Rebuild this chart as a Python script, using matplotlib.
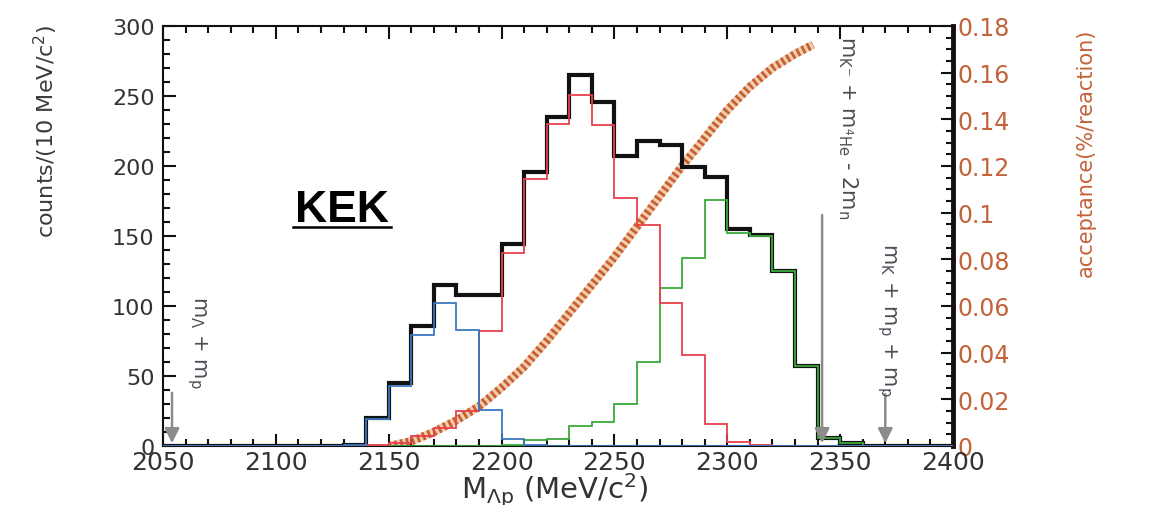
import numpy as np
import matplotlib
matplotlib.use("Agg")
import matplotlib.pyplot as plt
from matplotlib.ticker import MultipleLocator, FuncFormatter
from matplotlib.lines import Line2D

plt.rcParams['font.family'] = ['DejaVu Sans']
plt.rcParams['mathtext.fontset'] = 'dejavusans'

# ---------------- data ----------------
bin_edges = list(range(2050, 2401, 10))   # 10 MeV bins, 2050 .. 2400
# counts per bin (lower edges 2050, 2060, ..., 2390)
blue_counts = [0, 0, 0, 0, 0, 0, 0, 0, 1, 19, 43, 79, 102, 83, 26, 5, 1,
               0, 0, 0, 0, 0, 0, 0, 0, 0, 0, 0, 0, 0, 0, 0, 0, 0, 0]
red_counts = [0, 0, 0, 0, 0, 0, 0, 0, 0, 1, 2, 7, 13, 25, 82, 138, 191,
              230, 251, 229, 177, 158, 102, 65, 16, 3, 1, 0, 0, 0, 0, 0, 0, 0, 0]
green_counts = [0, 0, 0, 0, 0, 0, 0, 0, 0, 0, 0, 0, 0, 0, 0, 1, 4,
                5, 14, 17, 30, 60, 113, 134, 176, 152, 150, 125, 57, 6, 2, 0, 0, 0, 0]
total_counts = [b + r + g for b, r, g in zip(blue_counts, red_counts, green_counts)]

acc_mass = [2150, 2160, 2170, 2180, 2190, 2200, 2210, 2220, 2230, 2240, 2250,
            2260, 2270, 2280, 2290, 2300, 2310, 2320, 2330, 2338]
acc_value = [0.000, 0.002, 0.006, 0.011, 0.017, 0.025, 0.034, 0.045, 0.057,
             0.069, 0.081, 0.094, 0.107, 0.120, 0.132, 0.144, 0.154, 0.162,
             0.168, 0.172]

threshold_mass = [2054, 2342, 2370]
threshold_top = [38, 165, 37]
threshold_labels = [r"m$_{\Lambda}$ + m$_{\mathrm{p}}$",
                    r"m$_{\mathrm{K}^{-}}$ + m$_{^{4}\mathrm{He}}$ - 2m$_{\mathrm{n}}$",
                    r"m$_{\mathrm{K}}$ + m$_{\mathrm{p}}$ + m$_{\mathrm{p}}$"]
threshold_label_pos = [(2065, 75), (2353.5, 228), (2370.5, 91)]

left_ticks = [0, 50, 100, 150, 200, 250, 300]
right_ticks = [0, 0.02, 0.04, 0.06, 0.08, 0.1, 0.12, 0.14, 0.16, 0.18]
x_ticks = [2050, 2100, 2150, 2200, 2250, 2300, 2350, 2400]

# ---------------- figure ----------------
W, H = 1162, 506
fig = plt.figure(figsize=(W / 100, H / 100), dpi=100, facecolor='white')
L, R, T, B = 163, 953, 27, 447
ax = fig.add_axes([L / W, 1 - B / H, (R - L) / W, (B - T) / H])
ax2 = ax.twinx()
ax.set_zorder(ax2.get_zorder() + 1)
ax.patch.set_visible(False)

ORANGE = '#c4623a'
TICKCOL = '#333333'

# acceptance curve (right axis)
ax2.plot(acc_mass, acc_value, color='#c8602e', lw=6.0,
         linestyle=(0, (0.35, 0.35)), gapcolor='#f2cdb0',
         dash_capstyle='butt', solid_capstyle='butt', zorder=1)

# histograms
ax.stairs(total_counts, bin_edges, color='#111111', lw=3.0, zorder=2)
ax.stairs(green_counts, bin_edges, color='#3aaa3a', lw=1.3, zorder=3)
ax.stairs(red_counts, bin_edges, color='#e8404c', lw=1.3, zorder=4)
ax.stairs(blue_counts, bin_edges, color='#3a78c0', lw=1.3, zorder=5)

ax.set_xlim(2050, 2400)
ax.set_ylim(0, 300)
ax2.set_ylim(0, 0.18)

# ticks
ax.xaxis.set_minor_locator(MultipleLocator(10))
ax.yaxis.set_minor_locator(MultipleLocator(10))
ax.set_xticks(x_ticks)
ax.set_yticks(left_ticks)
ax.tick_params(axis='both', which='both', direction='in', color='#111111')
ax.tick_params(axis='x', which='both', top=True, bottom=True)
ax.tick_params(axis='y', which='both', left=True, right=False)
ax.tick_params(axis='both', which='major', length=9, width=1.5)
ax.tick_params(axis='both', which='minor', length=5, width=1.5)
ax.tick_params(axis='x', labelsize=18, labelcolor=TICKCOL, pad=3)
ax.tick_params(axis='y', labelsize=16, labelcolor=TICKCOL, pad=6)

ax2.set_yticks(right_ticks)
ax2.yaxis.set_minor_locator(MultipleLocator(0.005))
ax2.yaxis.set_major_formatter(FuncFormatter(lambda v, p: '%g' % round(v, 3)))
ax2.tick_params(axis='y', which='both', direction='in', color='#111111')
ax2.tick_params(axis='y', which='major', length=9, width=1.5,
                labelsize=17, labelcolor=ORANGE, pad=3)
ax2.tick_params(axis='y', which='minor', length=5, width=1.5)

for s in ['left', 'top', 'bottom']:
    ax.spines[s].set_linewidth(1.5)
    ax.spines[s].set_color('#111111')
ax.spines['right'].set_visible(False)
for s in ['left', 'top', 'bottom']:
    ax2.spines[s].set_visible(False)
ax2.spines['right'].set_linewidth(3.5)
ax2.spines['right'].set_color('#111111')

# threshold arrows and labels
for xm, yt in zip(threshold_mass, threshold_top):
    ax.annotate('', xy=(xm, 2), xytext=(xm, yt),
                arrowprops=dict(arrowstyle='-|>', color='#8c8c8c', lw=1.8,
                                mutation_scale=22, shrinkA=0, shrinkB=0),
                zorder=6)
for txt, (xm, ym) in zip(threshold_labels, threshold_label_pos):
    ax.text(xm, ym, txt, rotation=-90, ha='center', va='center',
            fontsize=15, color='#4d4d57', zorder=7)

# axis labels
fig.text(555 / W, 1 - 499 / H, r"M$_{\Lambda \mathrm{p}}$ (MeV/c$^{2}$)",
         ha='center', va='baseline', fontsize=21, color='#333333')
fig.text(46 / W, 1 - 131 / H, r"counts/(10 MeV/c$^{2}$)", rotation=90,
         ha='center', va='center', fontsize=16, color='#3a3a3a')
fig.text(1086 / W, 1 - 153 / H, "acceptance(%/reaction)", rotation=90,
         ha='center', va='center', fontsize=15, color=ORANGE)

# KEK label with underline
kek = fig.text(295 / W, 1 - 222 / H, "KEK", fontsize=32, fontweight='bold',
               family='Liberation Sans', ha='left', va='baseline', color='black')
fig.canvas.draw()
bb = kek.get_window_extent(renderer=fig.canvas.get_renderer())
fig.add_artist(Line2D([bb.x0 / W - 0.002, bb.x1 / W + 0.002],
                      [1 - 228 / H, 1 - 228 / H], transform=fig.transFigure,
                      color='black', lw=1.8))

fig.savefig('out.png', dpi=100, facecolor='white')
